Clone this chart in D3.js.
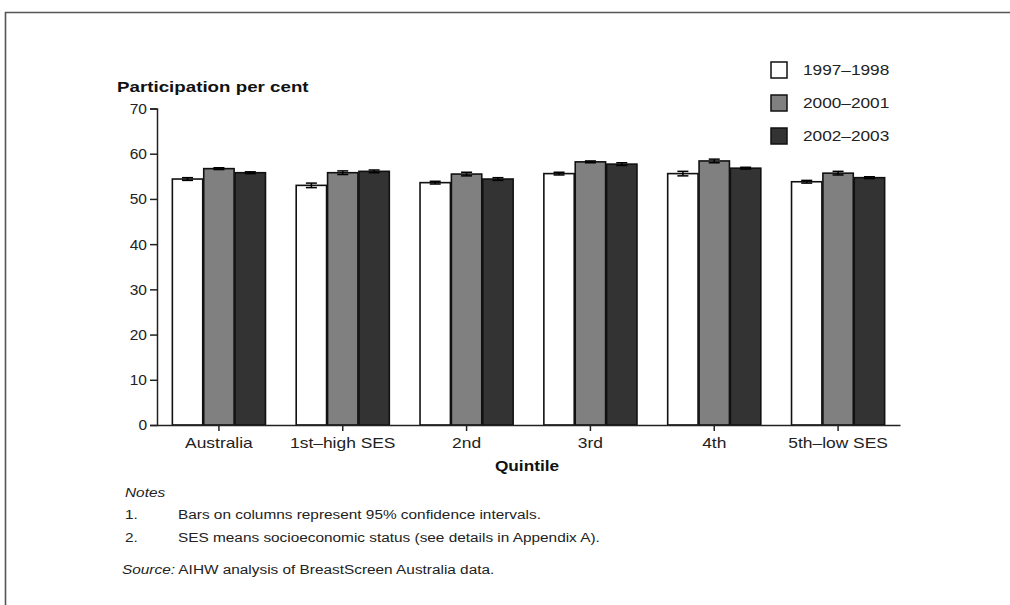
<!DOCTYPE html>
<html lang="en">
<head>
<meta charset="UTF-8">
<title>Participation by quintile</title>
<script src="https://d3js.org/d3.v7.min.js"></script>
<style>
  body { margin: 0; background: #fff; }
  svg { font-family: "Liberation Sans", Arial, sans-serif; }
</style>
</head>
<body>
<div id="container"></div>
<script>
  var categories = ["Australia", "1st\u2013high SES", "2nd", "3rd", "4th", "5th\u2013low SES"];
  var periods = ["1997\u20131998", "2000\u20132001", "2002\u20132003"];
  var v1997 = [54.4, 53.0, 53.6, 55.6, 55.6, 53.8];
  var v2000 = [56.7, 55.8, 55.5, 58.2, 58.4, 55.7];
  var v2002 = [55.8, 56.1, 54.4, 57.7, 56.8, 54.7];
  // half width of 95% confidence interval
  var ci1997 = [0.3, 0.5, 0.3, 0.3, 0.5, 0.3];
  var ci2000 = [0.2, 0.4, 0.4, 0.2, 0.4, 0.4];
  var ci2002 = [0.2, 0.3, 0.3, 0.3, 0.2, 0.2];
  var yTicks = [0, 10, 20, 30, 40, 50, 60, 70];
  var fills = ["#ffffff", "#808080", "#333333"];

  var values = [v1997, v2000, v2002];
  var cis = [ci1997, ci2000, ci2002];

  var width = 1010, height = 605;
  var svg = d3.select("#container").append("svg")
    .attr("width", width).attr("height", height);

  // the source text is set a bit wide, so stretch it horizontally
  function label(g, x, y, str, size, sx) {
    return g.append("text")
      .attr("transform", "translate(" + x + "," + y + ") scale(" + sx + ",1)")
      .attr("font-size", size).attr("fill", "#222").text(str);
  }

  // page frame
  svg.append("path")
    .attr("d", "M5.5,605 V12.5 H1010")
    .attr("fill", "none").attr("stroke", "#555").attr("stroke-width", 1.6);

  var x = d3.scaleBand().domain(categories).range([157, 900])
    .paddingInner(0.24).paddingOuter(0.12);
  var xs = d3.scaleBand().domain(periods).range([0, x.bandwidth()]);
  var y = d3.scaleLinear().domain([0, 70]).range([425, 108.5]);

  var data = [];
  categories.forEach(function (c, i) {
    periods.forEach(function (p, j) {
      data.push({ cat: c, per: p, j: j, v: values[j][i], ci: cis[j][i] });
    });
  });

  svg.append("g").selectAll("rect").data(data).enter().append("rect")
    .attr("x", d => x(d.cat) + xs(d.per) + 0.5)
    .attr("y", d => y(d.v))
    .attr("width", xs.bandwidth() - 1)
    .attr("height", d => y(0) - y(d.v))
    .attr("fill", d => fills[d.j])
    .attr("stroke", "#111").attr("stroke-width", 1.6);

  // error bars
  var eb = svg.append("g").attr("stroke", "#000").attr("stroke-width", 1.5);
  data.forEach(function (d) {
    var cx = x(d.cat) + xs(d.per) + xs.bandwidth() / 2;
    eb.append("line").attr("x1", cx).attr("x2", cx)
      .attr("y1", y(d.v - d.ci)).attr("y2", y(d.v + d.ci));
    [d.v - d.ci, d.v + d.ci].forEach(function (t) {
      eb.append("line").attr("x1", cx - 5.5).attr("x2", cx + 5.5)
        .attr("y1", y(t)).attr("y2", y(t));
    });
  });

  // y axis
  var yAxis = svg.append("g").attr("transform", "translate(157,0)")
    .call(d3.axisLeft(y).tickValues(yTicks).tickSize(7).tickPadding(3));
  yAxis.select(".domain").attr("stroke", "#222").attr("stroke-width", 1.5);
  yAxis.selectAll(".tick line").attr("stroke", "#222").attr("stroke-width", 1.5);
  yAxis.selectAll("text").attr("font-size", 15.5).attr("fill", "#222")
    .attr("font-family", "Liberation Sans, Arial, sans-serif");

  // x axis
  var xAxis = svg.append("g").attr("transform", "translate(0,425)")
    .call(d3.axisBottom(x).tickSizeInner(6).tickSizeOuter(0).tickPadding(6));
  xAxis.select(".domain").attr("stroke", "#222").attr("stroke-width", 1.5);
  xAxis.selectAll(".tick line").attr("stroke", "#222").attr("stroke-width", 1.5);
  xAxis.selectAll("text").attr("font-size", 15).attr("fill", "#222")
    .attr("transform", "scale(1.16,1)")
    .attr("font-family", "Liberation Sans, Arial, sans-serif");

  label(svg, 117, 92, "Participation per cent", 15, 1.25)
    .attr("font-weight", "bold").attr("fill", "#111");
  label(svg, 527, 471, "Quintile", 15, 1.15)
    .attr("font-weight", "bold").attr("fill", "#111").attr("text-anchor", "middle");

  // legend
  var lg = svg.append("g").selectAll("g").data(periods).enter().append("g")
    .attr("transform", (d, i) => "translate(771," + (62 + i * 33) + ")");
  lg.append("rect").attr("width", 16).attr("height", 16)
    .attr("fill", (d, i) => fills[i]).attr("stroke", "#111").attr("stroke-width", 1.5);
  lg.each(function (d) { label(d3.select(this), 32, 13, d, 15, 1.15); });

  // notes
  var notes = svg.append("g");
  var ns = 12.5, nx = 1.23;
  label(notes, 125, 497, "Notes", ns, nx).attr("font-style", "italic");
  label(notes, 125, 519, "1.", ns, nx);
  label(notes, 178, 519, "Bars on columns represent 95% confidence intervals.", ns, nx);
  label(notes, 125, 542, "2.", ns, nx);
  label(notes, 178, 542, "SES means socioeconomic status (see details in Appendix A).", ns, nx);
  var src = label(notes, 122, 574, "", ns, nx);
  src.append("tspan").attr("font-style", "italic").text("Source:");
  src.append("tspan").text(" AIHW analysis of BreastScreen Australia data.");
</script>
</body>
</html>
